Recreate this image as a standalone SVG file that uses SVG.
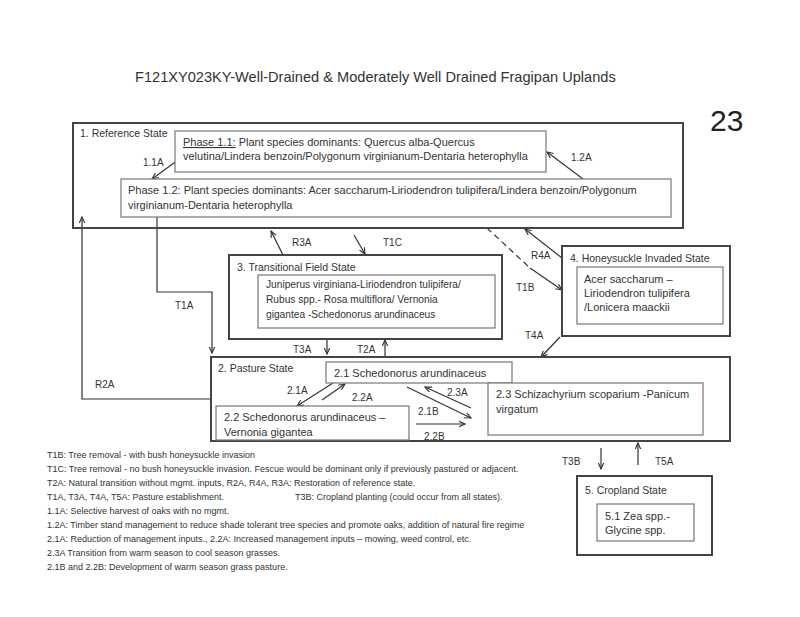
<svg xmlns="http://www.w3.org/2000/svg" width="800" height="617" viewBox="0 0 800 617">
<defs>
<marker id="ah" viewBox="0 0 10 10" refX="9" refY="5" markerWidth="7" markerHeight="7" orient="auto" markerUnits="userSpaceOnUse">
<path d="M0,1 L9,5 L0,9" fill="none" stroke="#333" stroke-width="1.6"/>
</marker>
</defs>
<style>
text{font-family:"Liberation Sans",Arial,sans-serif;fill:#333}
.h{font-size:10.5px}
.t{font-size:11px}
.tt{font-size:10.2px}
.lab{font-size:10px}
.leg{font-size:9px}
.state{fill:none;stroke:#444;stroke-width:2}
.phase{fill:#fff;stroke:#777;stroke-width:1.2}
.c{fill:none;stroke:#333;stroke-width:1.2}
.a{fill:none;stroke:#333;stroke-width:1.2;marker-end:url(#ah)}
</style>
<rect width="800" height="617" fill="#fff"/>
<text x="135" y="82" style="font-size:14.6px">F121XY023KY-Well-Drained &amp; Moderately Well Drained Fragipan Uplands</text>
<text x="710" y="131" style="font-size:30px;fill:#222">23</text>

<g id="connectors">
<path class="a" d="M178,160 L152,179"/>
<text class="lab" x="143" y="166">1.1A</text>
<path class="a" d="M583,179 L547,152"/>
<text class="lab" x="571" y="161">1.2A</text>
<path class="a" d="M211,399 L82,399 L82,217"/>
<text class="lab" x="95" y="388">R2A</text>
<path class="a" d="M157,217 L157,292 L212,292 L212,353"/>
<text class="lab" x="175" y="309">T1A</text>
<path class="a" d="M283,255 L271,231"/>
<text class="lab" x="292" y="246">R3A</text>
<path class="a" d="M354,235 L365,254"/>
<text class="lab" x="383" y="246">T1C</text>
<path class="a" d="M327,339 L327,354"/>
<text class="lab" x="293" y="353">T3A</text>
<path class="a" d="M385,357 L385,340"/>
<text class="lab" x="357" y="353">T2A</text>
<path class="c" d="M487,228 L530,268" stroke-dasharray="6,4"/>
<path class="a" d="M530,268 L562,290"/>
<text class="lab" x="516" y="291">T1B</text>
<path class="a" d="M562,258 L525,229"/>
<text class="lab" x="531" y="259">R4A</text>
<path class="a" d="M560,337 L541,357"/>
<text class="lab" x="525" y="339">T4A</text>
<path class="a" d="M333,383 L297,406"/>
<text class="lab" x="287" y="394">2.1A</text>
<path class="a" d="M322,400 L345,384"/>
<text class="lab" x="352" y="401">2.2A</text>
<path class="a" d="M407,387 L471,418"/>
<text class="lab" x="418" y="415">2.1B</text>
<path class="a" d="M471,408 L425,387"/>
<text class="lab" x="447" y="396">2.3A</text>
<path class="a" d="M416,424 L465,424"/>
<text class="lab" x="424" y="440">2.2B</text>
<path class="a" d="M601,448 L601,469"/>
<text class="lab" x="562" y="465">T3B</text>
<path class="a" d="M638,465 L638,443"/>
<text class="lab" x="655" y="465">T5A</text>
</g>

<g id="reference-state">
<rect class="state" x="73" y="123" width="610" height="105"/>
<text class="h" x="80" y="137">1. Reference State</text>
</g>
<g id="phase-1-1">
<rect class="phase" x="175" y="131" width="371" height="41"/>
<text class="t" x="183" y="146"><tspan text-decoration="underline">Phase 1.1:</tspan>  Plant species dominants: Quercus alba-Quercus</text>
<text class="t" x="183" y="160">velutina/Lindera benzoin/Polygonum virginianum-Dentaria heterophylla</text>
</g>
<g id="phase-1-2">
<rect class="phase" x="121" y="179" width="550" height="38"/>
<text class="t" x="128" y="194">Phase 1.2: Plant species dominants: Acer saccharum-Liriodendron tulipifera/Lindera benzoin/Polygonum</text>
<text class="t" x="128" y="209">virginianum-Dentaria heterophylla</text>
</g>

<g id="transitional-state">
<rect class="state" x="229" y="255" width="273" height="84"/>
<text class="h" x="237" y="271">3. Transitional Field State</text>
<rect class="phase" x="258" y="275" width="237" height="53"/>
<text class="tt" x="266" y="288">Juniperus virginiana-Liriodendron tulipifera/</text>
<text class="tt" x="266" y="303">Rubus spp.- Rosa multiflora/ Vernonia</text>
<text class="tt" x="266" y="318">gigantea -Schedonorus arundinaceus</text>
</g>

<g id="honeysuckle-state">
<rect class="state" x="562" y="246" width="168" height="90"/>
<text class="h" x="570" y="262">4. Honeysuckle Invaded State</text>
<rect class="phase" x="577" y="267" width="146" height="57"/>
<text class="t" x="584" y="283">Acer saccharum –</text>
<text class="t" x="584" y="297">Liriodendron tulipifera</text>
<text class="t" x="584" y="311">/Lonicera maackii</text>
</g>

<g id="pasture-state">
<rect class="state" x="211" y="357" width="519" height="84"/>
<text class="h" x="218" y="372">2. Pasture State</text>
</g>
<g id="phase-2-1">
<rect class="phase" x="326" y="362" width="186" height="21"/>
<text class="t" x="334" y="377">2.1 Schedonorus arundinaceus</text>
</g>
<g id="phase-2-2">
<rect class="phase" x="216" y="406" width="193" height="34"/>
<text class="t" x="224" y="421">2.2 Schedonorus arundinaceus –</text>
<text class="t" x="224" y="436">Vernonia gigantea</text>
</g>
<g id="phase-2-3">
<rect class="phase" x="488" y="383" width="215" height="52"/>
<text class="t" x="496" y="398">2.3 Schizachyrium scoparium -Panicum</text>
<text class="t" x="496" y="413">virgatum</text>
</g>

<g id="cropland-state">
<rect class="state" x="577" y="476" width="135" height="79"/>
<text class="h" x="585" y="494">5. Cropland State</text>
<rect class="phase" x="597" y="504" width="97" height="37"/>
<text class="t" x="605" y="520">5.1 Zea spp.-</text>
<text class="t" x="605" y="534">Glycine spp.</text>
</g>

<g id="legend">
<text class="leg" x="47" y="458">T1B: Tree removal - with bush honeysuckle invasion</text>
<text class="leg" x="47" y="472">T1C: Tree removal - no bush honeysuckle invasion.  Fescue would be dominant only if previously pastured or adjacent.</text>
<text class="leg" x="47" y="486">T2A: Natural transition without mgmt. inputs,  R2A, R4A, R3A: Restoration of reference state.</text>
<text class="leg" x="47" y="500">T1A, T3A, T4A, T5A: Pasture establishment.<tspan x="295">T3B: Cropland planting (could occur from all states).</tspan></text>
<text class="leg" x="47" y="514">1.1A: Selective harvest of oaks with no mgmt.</text>
<text class="leg" x="47" y="528">1.2A: Timber stand management to reduce shade tolerant tree species and promote oaks, addition of natural fire regime</text>
<text class="leg" x="47" y="542">2.1A: Reduction of management inputs., 2.2A:  Increased management inputs – mowing, weed control, etc.</text>
<text class="leg" x="47" y="556">2.3A Transition from warm season to cool season grasses.</text>
<text class="leg" x="47" y="570">2.1B and 2.2B:  Development of warm season grass pasture.</text>
</g>
</svg>
